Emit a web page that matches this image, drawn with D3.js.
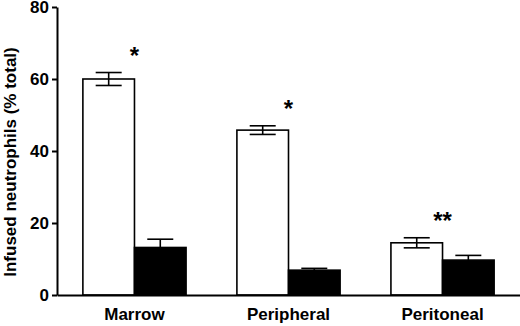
<!DOCTYPE html>
<html>
<head>
<meta charset="utf-8">
<script src="https://cdn.jsdelivr.net/npm/d3@7"></script>
<style>
  body { margin: 0; background: #fff; }
  text { font-family: "Liberation Sans", Arial, sans-serif; font-weight: bold; fill: #000; }
</style>
</head>
<body>
<div id="chart"></div>
<script>
const categories = ["Marrow", "Peripheral", "Peritoneal"];
const series = ["open", "filled"];
const openMean = [60, 45.8, 14.5];
const openErr = [1.8, 1.2, 1.4];
const filledMean = [13.2, 6.9, 9.7];
const filledErr = [2.3, 0.5, 1.3];
const stars = ["*", "*", "**"];
const yTicks = [0, 20, 40, 60, 80];

const width = 520, height = 326;
const margin = { top: 7, right: 0, bottom: 31, left: 57 };

const svg = d3.select("#chart")
  .append("svg")
  .attr("width", width)
  .attr("height", height);

const x = d3.scaleBand()
  .domain(categories)
  .range([margin.left, width - margin.right])
  .paddingInner(0.33)
  .paddingOuter(0.168);

const xSub = d3.scaleBand()
  .domain(series)
  .range([0, x.bandwidth()]);

const y = d3.scaleLinear()
  .domain([0, 80])
  .range([height - margin.bottom, margin.top]);

const data = [];
categories.forEach((c, i) => {
  data.push({ cat: c, s: "open", mean: openMean[i], err: openErr[i] });
  data.push({ cat: c, s: "filled", mean: filledMean[i], err: filledErr[i] });
});

// bars
svg.append("g")
  .selectAll("rect")
  .data(data)
  .join("rect")
  .attr("x", (d) => x(d.cat) + xSub(d.s))
  .attr("y", (d) => y(d.mean))
  .attr("width", xSub.bandwidth())
  .attr("height", (d) => y(0) - y(d.mean))
  .attr("fill", (d) => (d.s === "open" ? "#fff" : "#000"))
  .attr("stroke", "#000")
  .attr("stroke-width", 1.6);

// error bars
const capW = 26;
const eb = svg.append("g")
  .attr("stroke", "#000")
  .attr("stroke-width", 1.6)
  .selectAll("g")
  .data(data)
  .join("g")
  .attr("transform", (d) => `translate(${x(d.cat) + xSub(d.s) + xSub.bandwidth() / 2},0)`);

eb.append("line")
  .attr("y1", (d) => y(d.mean - d.err))
  .attr("y2", (d) => y(d.mean + d.err));
eb.append("line")
  .attr("x1", -capW / 2).attr("x2", capW / 2)
  .attr("y1", (d) => y(d.mean + d.err))
  .attr("y2", (d) => y(d.mean + d.err));
eb.append("line")
  .attr("x1", -capW / 2).attr("x2", capW / 2)
  .attr("y1", (d) => y(d.mean - d.err))
  .attr("y2", (d) => y(d.mean - d.err));

// significance stars
svg.append("g")
  .selectAll("text")
  .data(categories)
  .join("text")
  .attr("x", (d) => x(d) + x.bandwidth() / 2)
  .attr("y", (d, i) => y(openMean[i] + openErr[i]) - 22 + 13)
  .attr("text-anchor", "middle")
  .style("font-size", "24px")
  .text((d, i) => stars[i]);

// y axis
const yAxis = svg.append("g")
  .attr("transform", `translate(${margin.left},0)`)
  .call(d3.axisLeft(y).tickValues(yTicks).tickSize(5).tickPadding(3).tickSizeOuter(0));
yAxis.select(".domain").attr("stroke-width", 2);
yAxis.selectAll(".tick line").attr("stroke-width", 2);
yAxis.selectAll(".tick text").style("font-size", "17px").style("font-family", "Liberation Sans, Arial, sans-serif");

// x axis
const xAxis = svg.append("g")
  .attr("transform", `translate(0,${y(0)})`)
  .call(d3.axisBottom(x).tickSize(0).tickPadding(13).tickSizeOuter(0));
xAxis.select(".domain").attr("stroke-width", 2);
xAxis.selectAll(".tick text").style("font-size", "17px").style("font-family", "Liberation Sans, Arial, sans-serif");

// y label
svg.append("text")
  .attr("transform", `translate(16,${162}) rotate(-90)`)
  .attr("text-anchor", "middle")
  .style("font-size", "17px")
  .text("Infused neutrophils (% total)");
</script>
</body>
</html>
